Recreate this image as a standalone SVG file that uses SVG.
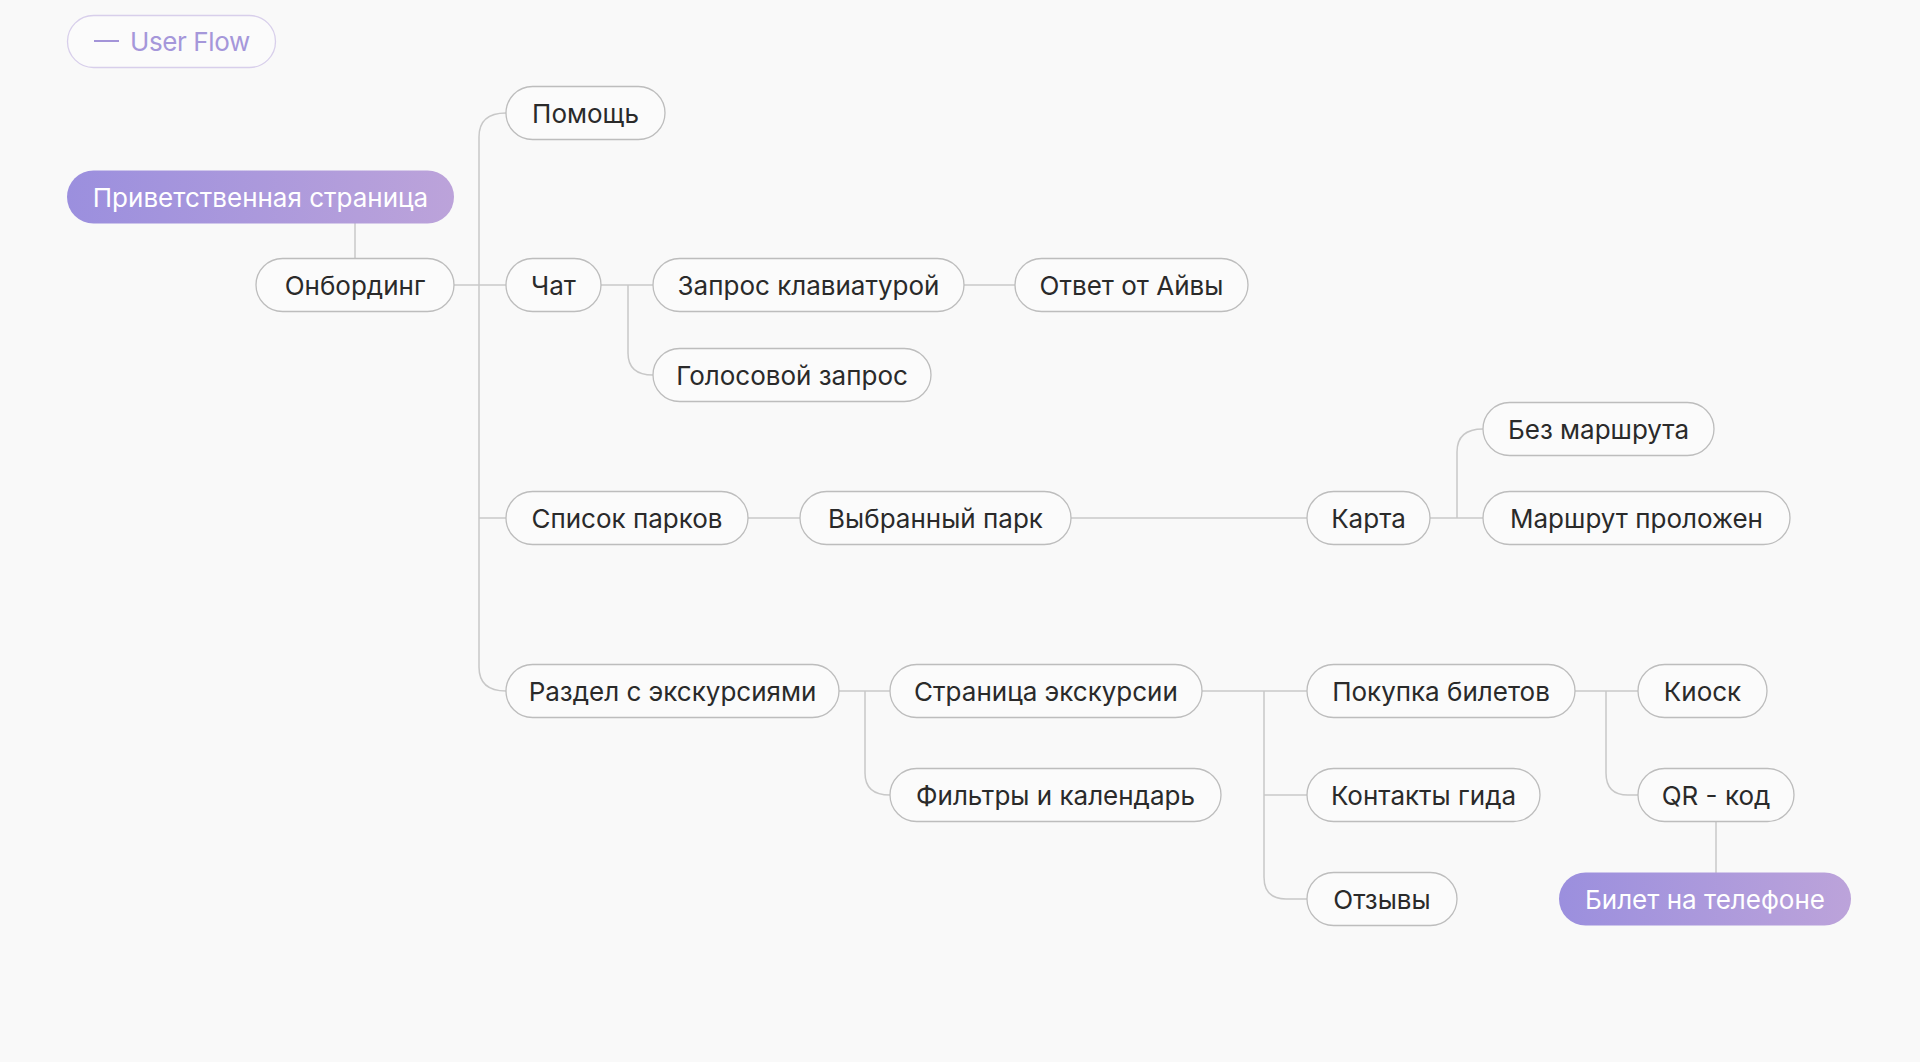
<svg xmlns="http://www.w3.org/2000/svg" width="1920" height="1062" viewBox="0 0 1920 1062">
<defs>
<linearGradient id="grad" x1="0" y1="0" x2="1" y2="0">
<stop offset="0" stop-color="#9b8fde"/>
<stop offset="1" stop-color="#bca3da"/>
</linearGradient>
<style>
.node rect{fill:#fbfbfb;stroke:#bdbdbd;stroke-width:1.3}
.node text{font-family:Inter,"Noto Sans",sans-serif;font-size:26px;fill:#2a2a2a;text-anchor:middle;letter-spacing:0px}
.accent rect{fill:url(#grad);stroke:none}
.accent text{fill:#ffffff}
#connectors path{fill:none;stroke:#c8c8c8;stroke-width:1.5}
</style>
</defs>
<rect width="1920" height="1062" fill="#f9f9f9"/>

<g id="legend">
<rect x="67.5" y="15.5" width="208" height="52" rx="26" fill="#fbfbfb" stroke="#d8cfeb" stroke-width="1.3"/>
<path d="M94 41 H119" stroke="#a394d8" stroke-width="2"/>
<text x="130" y="50.5" font-family="Inter,'Noto Sans',sans-serif" font-size="26" fill="#a597da" letter-spacing="-0.4">User Flow</text>
</g>

<g id="connectors">
<path d="M355 223 V259"/>
<path d="M454 285 H506"/>
<path d="M506 113 Q479 113 479 137 V667 Q479 691 506 691"/>
<path d="M479 518 H506"/>
<path d="M601 285 H653"/>
<path d="M628 285 V353 Q628 375 653 375"/>
<path d="M964 285 H1015"/>
<path d="M748 518 H800"/>
<path d="M1071 518 H1307"/>
<path d="M1430 518 H1483"/>
<path d="M1457 518 V452 Q1457 429 1483 429"/>
<path d="M839 691 H890"/>
<path d="M865 691 V773 Q865 795 890 795"/>
<path d="M1202 691 H1307"/>
<path d="M1264 691 V877 Q1264 899 1286 899 H1307"/>
<path d="M1264 795 H1307"/>
<path d="M1575 691 H1638"/>
<path d="M1606 691 V773 Q1606 795 1628 795 H1638"/>
<path d="M1716 821 V873"/>
</g>

<g id="n-help" class="node"><rect x="506" y="86.5" width="159" height="53" rx="26.5"/><text x="585.5" y="123">Помощь</text></g>
<g id="n-welcome" class="node accent"><rect x="67" y="170.5" width="387" height="53" rx="26.5"/><text x="260.5" y="207">Приветственная страница</text></g>
<g id="n-onboarding" class="node"><rect x="256" y="258.5" width="198" height="53" rx="26.5"/><text x="355" y="295">Онбординг</text></g>
<g id="n-chat" class="node"><rect x="506" y="258.5" width="95" height="53" rx="26.5"/><text x="553.5" y="295">Чат</text></g>
<g id="n-keyboard" class="node"><rect x="653" y="258.5" width="311" height="53" rx="26.5"/><text x="808.5" y="295">Запрос клавиатурой</text></g>
<g id="n-answer" class="node"><rect x="1015" y="258.5" width="233" height="53" rx="26.5"/><text x="1131.5" y="295">Ответ от Айвы</text></g>
<g id="n-voice" class="node"><rect x="653" y="348.5" width="278" height="53" rx="26.5"/><text x="792" y="385">Голосовой запрос</text></g>
<g id="n-noroute" class="node"><rect x="1483" y="402.5" width="231" height="53" rx="26.5"/><text x="1598.5" y="439">Без маршрута</text></g>
<g id="n-parks" class="node"><rect x="506" y="491.5" width="242" height="53" rx="26.5"/><text x="627" y="528">Список парков</text></g>
<g id="n-park" class="node"><rect x="800" y="491.5" width="271" height="53" rx="26.5"/><text x="935.5" y="528">Выбранный парк</text></g>
<g id="n-map" class="node"><rect x="1307" y="491.5" width="123" height="53" rx="26.5"/><text x="1368.5" y="528">Карта</text></g>
<g id="n-route" class="node"><rect x="1483" y="491.5" width="307" height="53" rx="26.5"/><text x="1636.5" y="528">Маршрут проложен</text></g>
<g id="n-tours" class="node"><rect x="506" y="664.5" width="333" height="53" rx="26.5"/><text x="672.5" y="701">Раздел с экскурсиями</text></g>
<g id="n-tour" class="node"><rect x="890" y="664.5" width="312" height="53" rx="26.5"/><text x="1046" y="701">Страница экскурсии</text></g>
<g id="n-buy" class="node"><rect x="1307" y="664.5" width="268" height="53" rx="26.5"/><text x="1441" y="701">Покупка билетов</text></g>
<g id="n-kiosk" class="node"><rect x="1638" y="664.5" width="129" height="53" rx="26.5"/><text x="1702.5" y="701">Киоск</text></g>
<g id="n-filters" class="node"><rect x="890" y="768.5" width="331" height="53" rx="26.5"/><text x="1055.5" y="805">Фильтры и календарь</text></g>
<g id="n-guide" class="node"><rect x="1307" y="768.5" width="233" height="53" rx="26.5"/><text x="1423.5" y="805">Контакты гида</text></g>
<g id="n-qr" class="node"><rect x="1638" y="768.5" width="156" height="53" rx="26.5"/><text x="1716" y="805">QR - код</text></g>
<g id="n-reviews" class="node"><rect x="1307" y="872.5" width="150" height="53" rx="26.5"/><text x="1382" y="909">Отзывы</text></g>
<g id="n-ticket" class="node accent"><rect x="1559" y="872.5" width="292" height="53" rx="26.5"/><text x="1705" y="909">Билет на телефоне</text></g>
</svg>
